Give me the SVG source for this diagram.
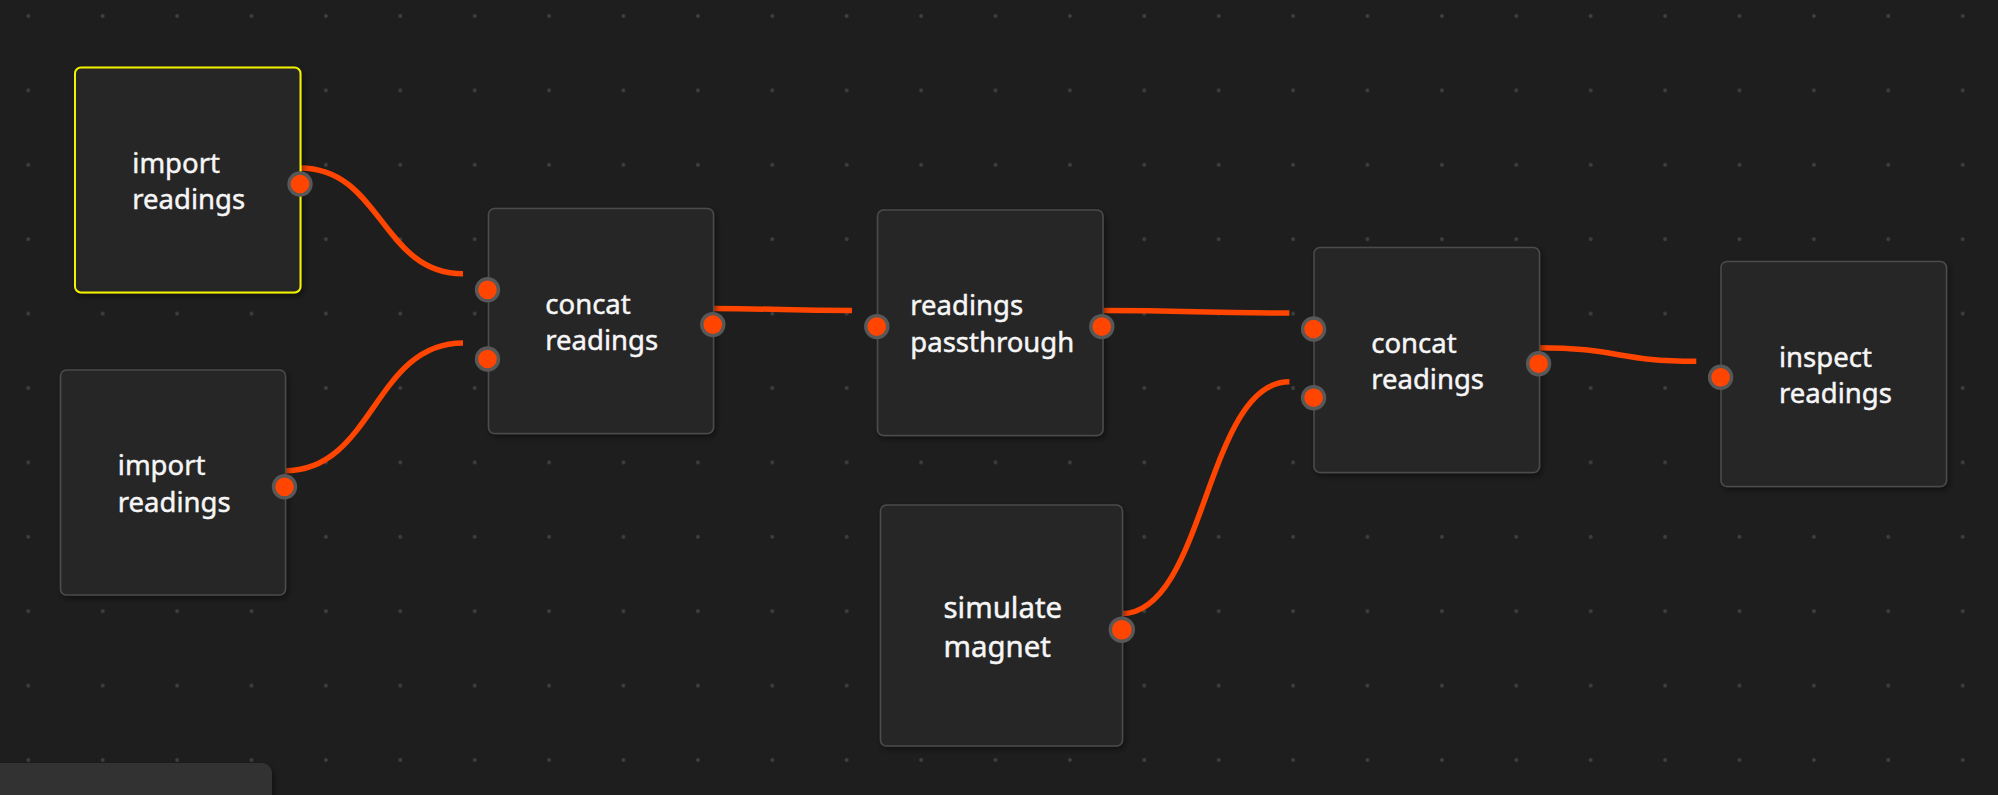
<svg xmlns="http://www.w3.org/2000/svg" width="1998" height="795" viewBox="0 0 1998 795">
<defs>
<pattern id="grid" x="28.3" y="16" width="74.4" height="74.4" patternUnits="userSpaceOnUse">
<circle cx="0" cy="0" r="1.9" fill="#404040"/>
<circle cx="74.4" cy="0" r="1.9" fill="#404040"/>
<circle cx="0" cy="74.4" r="1.9" fill="#404040"/>
<circle cx="74.4" cy="74.4" r="1.9" fill="#404040"/>
</pattern>
<filter id="shadow" x="-10%" y="-10%" width="125%" height="125%">
<feDropShadow dx="2" dy="3" stdDeviation="3" flood-color="#000" flood-opacity="0.45"/>
</filter>
</defs>
<style>
.node { fill: #252525; stroke: #4b4b4b; stroke-width: 1.6; filter: url(#shadow); }
.sel { stroke: #f2f200; stroke-width: 2; }
.label { font-family: "Noto Sans", "Open Sans", sans-serif; font-size: 27.5px; fill: #f6f6f6; stroke: #f6f6f6; stroke-width: 0.45; }
.big { font-size: 29.4px; }
.port { fill: #ff4500; stroke: #585858; stroke-width: 3.4; }
.wire { fill: none; stroke: #ff4500; stroke-width: 5.5; }
</style>
<rect x="0" y="0" width="1998" height="795" fill="#1e1e1e"/>
<rect x="0" y="0" width="1998" height="795" fill="url(#grid)"/>

<g id="connectors">
<path class="wire" d="M300,168 C381.5,168 381.5,273.8 463,273.8"/>
<path class="wire" d="M284.5,470.8 C373.8,470.8 373.8,343 463,343"/>
<path class="wire" d="M712.6,308.6 C782,308.6 782,310.6 852,310.6"/>
<path class="wire" d="M1101.3,310.6 C1195,310.6 1195,313 1289.4,313"/>
<path class="wire" d="M1121.5,613.7 C1205.5,613.7 1205.5,381.7 1289.4,381.7"/>
<path class="wire" d="M1538.2,347.7 C1617,347.7 1617,361.3 1696.3,361.3"/>
</g>

<g id="node-import-1">
<rect class="node sel" x="75" y="67.5" width="225.5" height="225" rx="6"/>
<text class="label" x="132.3" y="172.5">import</text>
<text class="label" x="132.3" y="209">readings</text>
<circle class="port" cx="300" cy="184" r="11"/>
</g>

<g id="node-import-2">
<rect class="node" x="60.5" y="370" width="225" height="225" rx="6"/>
<text class="label" x="117.8" y="475">import</text>
<text class="label" x="117.8" y="511.5">readings</text>
<circle class="port" cx="284.5" cy="486.8" r="11"/>
</g>

<g id="node-concat-1">
<rect class="node" x="488.5" y="208.5" width="225" height="225" rx="6"/>
<text class="label" x="545.3" y="313.5">concat</text>
<text class="label" x="545.3" y="350">readings</text>
<circle class="port" cx="487.5" cy="289.8" r="11"/>
<circle class="port" cx="487.5" cy="359" r="11"/>
<circle class="port" cx="712.8" cy="324.6" r="11"/>
</g>

<g id="node-passthrough">
<rect class="node" x="877.5" y="210" width="225.5" height="225.5" rx="6"/>
<text class="label" x="910.3" y="315">readings</text>
<text class="label" x="910.3" y="351.5">passthrough</text>
<circle class="port" cx="876.8" cy="326.6" r="11"/>
<circle class="port" cx="1101.8" cy="326.6" r="11"/>
</g>

<g id="node-simulate">
<rect class="node" x="880.5" y="505" width="242" height="241" rx="6"/>
<text class="label big" x="943.5" y="617.5">simulate</text>
<text class="label big" x="943.5" y="656.5">magnet</text>
<circle class="port" cx="1121.8" cy="629.7" r="11.5"/>
</g>

<g id="node-concat-2">
<rect class="node" x="1314" y="247.5" width="225.5" height="225" rx="6"/>
<text class="label" x="1371.2" y="352.5">concat</text>
<text class="label" x="1371.2" y="389">readings</text>
<circle class="port" cx="1313.6" cy="329" r="11"/>
<circle class="port" cx="1313.6" cy="397.7" r="11"/>
<circle class="port" cx="1538.6" cy="363.7" r="11"/>
</g>

<g id="node-inspect">
<rect class="node" x="1721" y="261.5" width="225.5" height="225" rx="6"/>
<text class="label" x="1779" y="366.5">inspect</text>
<text class="label" x="1779" y="403">readings</text>
<circle class="port" cx="1720.6" cy="377.3" r="11"/>
</g>

<g id="panel">
<rect x="-12" y="763" width="284" height="60" rx="10" fill="#333333" filter="url(#shadow)"/>
</g>
</svg>
